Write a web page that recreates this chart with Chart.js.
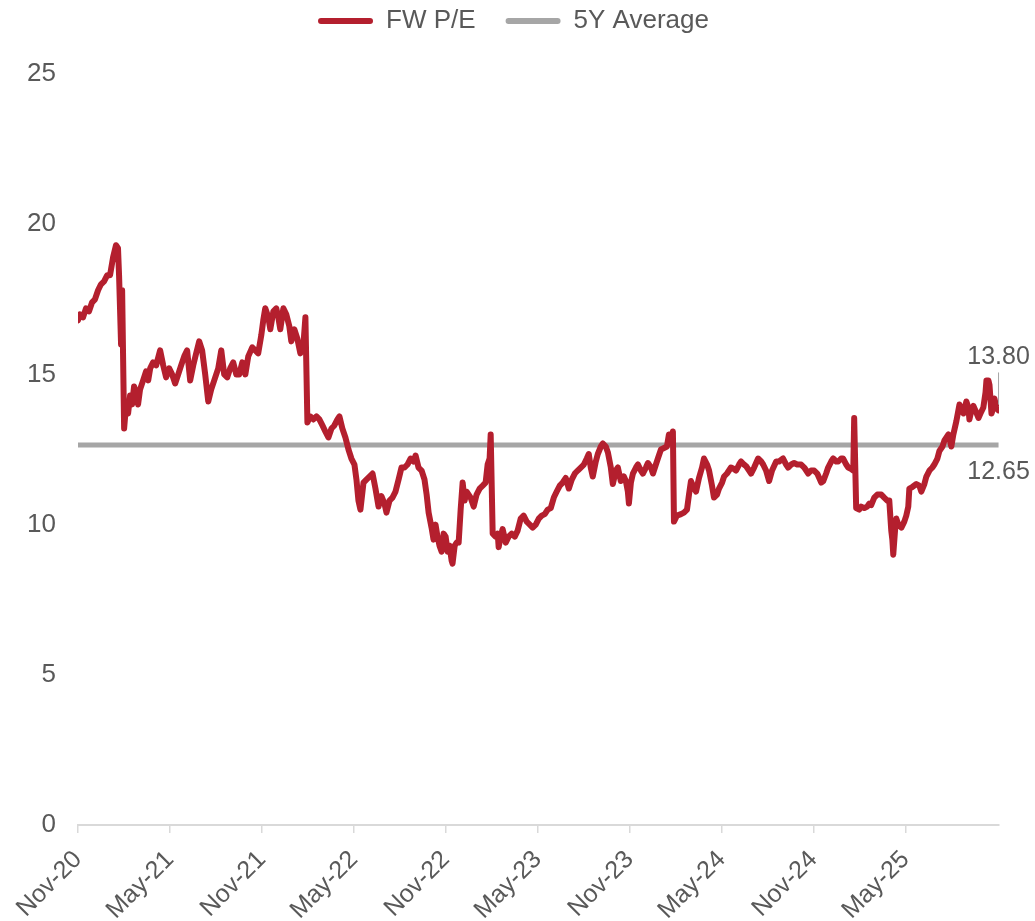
<!DOCTYPE html>
<html>
<head>
<meta charset="utf-8">
<script src="https://cdn.jsdelivr.net/npm/chart.js@4.4.1/dist/chart.umd.min.js"></script>
<style>
  body { margin: 0; background: #fff; }
  #wrap { width: 1035px; height: 921px; }
</style>
</head>
<body>
<div id="wrap"><canvas id="peChart" width="1035" height="921"></canvas></div>
<script>
// months since 1 Nov 2020
const monthOffset = [
  0, 0.13, 0.33, 0.52, 0.72, 0.92, 1.11, 1.31, 1.50, 1.70, 1.90, 2.09, 2.29, 2.48, 2.61, 2.68, 2.81, 2.88,
  3.01, 3.14, 3.27, 3.40, 3.53, 3.66, 3.79, 3.92, 4.05, 4.25, 4.44, 4.58, 4.71, 4.90, 5.10, 5.36, 5.56, 5.75, 5.95,
  6.14, 6.34, 6.54, 6.73, 6.93, 7.12, 7.32, 7.52, 7.71, 7.91, 8.10, 8.30, 8.50, 8.69, 8.89, 9.15, 9.35, 9.54, 9.74, 9.93,
  10.13, 10.33, 10.52, 10.72, 10.92, 11.11, 11.37, 11.57, 11.76, 11.96, 12.09, 12.22, 12.42, 12.55, 12.75, 12.94,
  13.07, 13.20, 13.40, 13.59, 13.79, 13.92, 14.12, 14.31, 14.51, 14.71, 14.84, 14.97, 15.16, 15.36, 15.56, 15.75, 15.95,
  16.14, 16.34, 16.54, 16.73, 16.93, 17.06, 17.25, 17.45, 17.65, 17.84, 18.04, 18.17, 18.30, 18.43, 18.63, 18.82,
  19.02, 19.22, 19.41, 19.61, 19.80, 20.00, 20.13, 20.33, 20.52, 20.72, 20.92, 21.11, 21.31, 21.50, 21.70, 21.90,
  22.03, 22.22, 22.42, 22.61, 22.75, 22.88, 23.07, 23.20, 23.33, 23.46, 23.59, 23.73, 23.86, 23.99, 24.12, 24.25,
  24.38, 24.44, 24.58, 24.71, 24.84, 24.97, 25.10, 25.23, 25.36, 25.49, 25.62, 25.82, 26.01, 26.21, 26.41, 26.60,
  26.73, 26.86, 26.93, 27.06, 27.25, 27.39, 27.45, 27.58, 27.71, 27.91, 28.10, 28.30, 28.50, 28.69, 28.89, 29.08,
  29.28, 29.48, 29.67, 29.87, 30.07, 30.26, 30.46, 30.65, 30.85, 31.05, 31.24, 31.44, 31.63, 31.83, 32.03, 32.22,
  32.42, 32.61, 32.81, 33.01, 33.20, 33.33, 33.46, 33.59, 33.79, 33.92, 34.12, 34.25, 34.44, 34.58, 34.77, 34.90,
  35.10, 35.23, 35.42, 35.62, 35.75, 35.88, 35.95, 36.08, 36.21, 36.41, 36.54, 36.73, 36.86, 37.06, 37.19, 37.39,
  37.52, 37.71, 37.84, 38.04, 38.24, 38.43, 38.56, 38.69, 38.82, 38.89, 39.08, 39.35, 39.54, 39.74, 39.87, 40.00,
  40.20, 40.33, 40.52, 40.72, 40.85, 41.05, 41.18, 41.37, 41.50, 41.70, 41.83, 42.03, 42.16, 42.35, 42.61, 42.81,
  42.94, 43.14, 43.27, 43.46, 43.59, 43.79, 43.92, 44.12, 44.38, 44.58, 44.71, 44.90, 45.10, 45.29, 45.56, 45.75,
  46.01, 46.21, 46.34, 46.54, 46.73, 46.93, 47.19, 47.39, 47.65, 47.84, 48.04, 48.24, 48.37, 48.50, 48.63, 48.82,
  48.95, 49.15, 49.28, 49.48, 49.61, 49.80, 49.93, 50.13, 50.26, 50.46, 50.59, 50.65, 50.78, 50.98, 51.11, 51.31,
  51.50, 51.63, 51.76, 51.96, 52.16, 52.42, 52.61, 52.81, 52.94, 53.07, 53.14, 53.20, 53.33, 53.40, 53.53, 53.73,
  53.92, 54.05, 54.18, 54.25, 54.44, 54.71, 54.90, 55.03, 55.23, 55.36, 55.56, 55.75, 55.88, 56.08, 56.21, 56.41,
  56.54, 56.67, 56.80, 56.99, 57.12, 57.32, 57.52, 57.65, 57.78, 57.97, 58.10, 58.17, 58.30, 58.43, 58.56, 58.76,
  58.89, 59.08, 59.22, 59.28, 59.41, 59.48, 59.61, 59.74, 59.80, 59.93, 60.07
];

const fwPE = [
  16.8, 17.0, 16.9, 17.2, 17.1, 17.4, 17.5, 17.8, 18.0, 18.1, 18.3, 18.3, 18.9, 19.3, 19.2, 18.3, 16.0, 17.8,
  13.2, 14.0, 13.7, 14.3, 14.0, 14.6, 14.4, 14.0, 14.5, 14.8, 15.1, 14.8, 15.2, 15.4, 15.3, 15.8, 15.3, 14.9, 15.2,
  15.0, 14.7, 15.0, 15.3, 15.6, 15.8, 14.8, 15.3, 15.7, 16.1, 15.8, 15.0, 14.1, 14.5, 14.8, 15.2, 15.8, 15.0, 14.9,
  15.2, 15.4, 15.0, 15.0, 15.4, 15.0, 15.6, 15.9, 15.8, 15.7, 16.3, 16.8, 17.2, 16.9, 16.5, 17.1, 17.2,
  16.9, 16.5, 17.2, 17.0, 16.6, 16.1, 16.5, 16.2, 15.7, 16.0, 16.9, 13.4, 13.6, 13.5, 13.6, 13.5, 13.3,
  13.1, 12.9, 13.2, 13.3, 13.5, 13.6, 13.2, 12.9, 12.5, 12.2, 12.0, 11.5, 10.8, 10.5, 11.4, 11.5,
  11.6, 11.7, 11.2, 10.6, 10.95, 10.7, 10.4, 10.8, 10.9, 11.1, 11.5, 11.9, 11.9, 12.0, 12.2, 12.1,
  12.3, 11.9, 11.8, 11.5, 11.0, 10.4, 9.9, 9.5, 10.0, 9.6, 9.3, 9.1, 9.7, 9.6, 9.1, 9.3,
  8.8, 8.7, 9.3, 9.4, 9.4, 10.5, 11.4, 10.8, 11.1, 11.0, 10.9, 10.6, 11.0, 11.2, 11.3, 11.4,
  12.0, 12.2, 13.0, 9.7, 9.6, 9.7, 9.25, 9.6, 9.85, 9.4, 9.6, 9.7, 9.6, 9.8, 10.2, 10.3,
  10.1, 10.0, 9.9, 10.0, 10.2, 10.3, 10.35, 10.5, 10.55, 10.9, 11.1, 11.3, 11.4, 11.55, 11.2, 11.5,
  11.7, 11.8, 11.9, 12.0, 12.2, 12.35, 11.9, 11.6, 12.1, 12.35, 12.6, 12.7, 12.6, 12.4, 11.9, 11.35,
  11.8, 11.9, 11.45, 11.6, 11.45, 11.1, 10.7, 11.4, 11.7, 11.9, 12.0, 11.8, 11.7, 11.9, 12.05, 11.9,
  11.7, 12.0, 12.2, 12.5, 12.55, 12.6, 13.0, 12.8, 13.1, 10.1, 10.3, 10.35, 10.4, 10.5, 11.0, 11.45,
  11.2, 11.1, 11.55, 11.9, 12.2, 12.0, 11.8, 11.3, 10.9, 11.0, 11.2, 11.4, 11.6, 11.7, 11.9, 11.85,
  11.8, 12.0, 12.1, 12.0, 11.95, 11.8, 11.7, 11.9, 12.2, 12.1, 12.0, 11.8, 11.45, 11.8, 12.1, 12.1,
  12.2, 12.0, 11.9, 12.0, 12.05, 12.0, 12.0, 11.9, 11.7, 11.8, 11.8, 11.7, 11.55, 11.4, 11.45, 11.7,
  11.9, 12.1, 12.2, 12.1, 12.1, 12.2, 12.2, 12.0, 11.9, 11.85, 11.8, 13.55, 10.55, 10.5, 10.6, 10.55,
  10.6, 10.7, 10.65, 10.9, 11.0, 11.0, 10.9, 10.8, 10.8, 9.8, 9.5, 9.0, 9.9, 10.2, 10.0, 9.9,
  10.1, 10.3, 10.6, 11.2, 11.25, 11.35, 11.3, 11.1, 11.35, 11.6, 11.8, 11.9, 12.0, 12.2, 12.45, 12.6,
  12.8, 12.9, 13.0, 12.6, 13.0, 13.45, 14.0, 13.8, 13.7, 14.1, 13.9, 13.5, 13.8, 13.95, 13.8, 13.55,
  13.7, 13.9, 14.4, 14.8, 14.8, 14.65, 13.7, 13.9, 14.2, 13.9, 13.8
];

const avgPE = 12.65;
const lastLabel = '13.80';
const avgLabel = '12.65';

const tickMonths = [0, 6, 12, 18, 24, 30, 36, 42, 48, 54];
const tickLabels = ['Nov-20', 'May-21', 'Nov-21', 'May-22', 'Nov-22', 'May-23', 'Nov-23', 'May-24', 'Nov-24', 'May-25'];
const xMax = 60.1;

const RED = '#b41f2e';
const GREY = '#a6a6a6';
const TEXT = '#595959';
const FONT = 'Arial, "Liberation Sans", sans-serif';

const peData = monthOffset.map((m, i) => ({ x: m, y: fwPE[i] }));
const avgData = [{ x: 0, y: avgPE }, { x: monthOffset[monthOffset.length - 1], y: avgPE }];

// legend items are spaced wider than the legend's vertical padding
const legendGap = {
  id: 'legendGap',
  beforeInit(chart) {
    const fit = chart.legend.fit;
    chart.legend.fit = function () {
      fit.bind(chart.legend)();
      this.height += 30;
    };
  }
};

// value tags at the right end
const endTags = {
  id: 'endTags',
  afterDatasetsDraw(chart) {
    const { ctx, scales: { x, y } } = chart;
    const xe = x.getPixelForValue(monthOffset[monthOffset.length - 1]);
    const yLast = y.getPixelForValue(fwPE[fwPE.length - 1]);
    const yAvg = y.getPixelForValue(avgPE);
    ctx.save();
    ctx.font = '25px ' + FONT;
    ctx.fillStyle = TEXT;
    ctx.textAlign = 'center';
    ctx.textBaseline = 'middle';
    ctx.fillText(lastLabel, xe, yLast - 53);
    ctx.fillText(avgLabel, xe, yAvg + 27);
    ctx.strokeStyle = GREY;
    ctx.lineWidth = 1;
    ctx.beginPath();
    ctx.moveTo(xe, yLast - 38);
    ctx.lineTo(xe, yLast - 6);
    ctx.stroke();
    ctx.restore();
  }
};

new Chart(document.getElementById('peChart'), {
  type: 'line',
  data: {
    datasets: [
      {
        label: 'FW P/E',
        data: peData,
        borderColor: RED,
        backgroundColor: RED,
        borderWidth: 6,
        pointRadius: 0,
        tension: 0,
        borderJoinStyle: 'round',
        borderCapStyle: 'round'
      },
      {
        label: '5Y Average',
        data: avgData,
        borderColor: GREY,
        backgroundColor: GREY,
        borderWidth: 5,
        pointRadius: 0,
        order: 1
      }
    ]
  },
  options: {
    responsive: false,
    animation: false,
    layout: { padding: { left: 28, right: 36, top: -22, bottom: 0 } },
    plugins: {
      legend: {
        display: true,
        position: 'top',
        labels: {
          color: TEXT,
          font: { family: FONT, size: 26 },
          boxWidth: 55,
          boxHeight: 6,
          useBorderRadius: true,
          borderRadius: 3,
          padding: 30,
          generateLabels: c => Chart.defaults.plugins.legend.labels.generateLabels(c).map(l => ({ ...l, lineWidth: 0 }))
        }
      },
      tooltip: { enabled: false }
    },
    scales: {
      x: {
        type: 'linear',
        min: 0,
        max: xMax,
        afterBuildTicks: s => { s.ticks = tickMonths.map(v => ({ value: v })); },
        afterFit: s => { s.paddingLeft = 0; s.height = 96; },
        ticks: {
          autoSkip: false,
          minRotation: 45,
          maxRotation: 45,
          padding: 12,
          color: TEXT,
          font: { family: FONT, size: 25 },
          callback: (v, i) => tickLabels[i]
        },
        grid: {
          drawOnChartArea: false,
          drawTicks: true,
          tickLength: 8,
          color: '#d9d9d9',
          lineWidth: 1.5
        },
        border: { display: true, color: '#d9d9d9', width: 2 }
      },
      y: {
        min: 0,
        max: 25,
        afterFit: s => { s.width = 50; },
        ticks: {
          stepSize: 5,
          padding: 14,
          color: TEXT,
          font: { family: FONT, size: 26 }
        },
        grid: { display: false },
        border: { display: false }
      }
    }
  },
  plugins: [legendGap, endTags]
});
</script>
</body>
</html>
